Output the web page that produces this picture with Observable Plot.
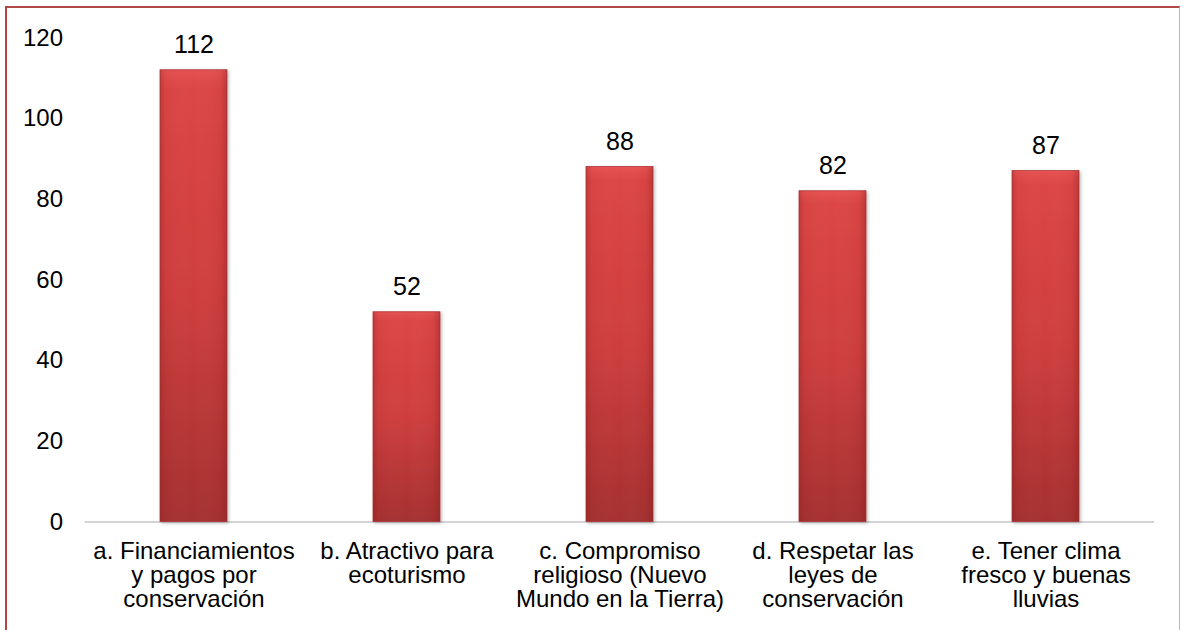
<!DOCTYPE html>
<html>
<head>
<meta charset="utf-8">
<script src="https://cdn.jsdelivr.net/npm/d3@7"></script>
<script src="https://cdn.jsdelivr.net/npm/@observablehq/plot@0.6"></script>
<style>
  html, body { margin: 0; padding: 0; background: #fff; }
  #wrap { position: relative; width: 1184px; height: 630px; overflow: hidden; }
  #border { position: absolute; left: 5px; top: 6px; width: 1172px; height: 640px;
            border-top: 2px solid #b04848; border-left: 2px solid #b04848; border-right: 1px solid #dcaaaa;
            pointer-events: none; }
  svg { font-family: Arial, "Liberation Sans", sans-serif; }
</style>
</head>
<body>
<div id="wrap"><div id="border"></div></div>
<script>
const keys = ["a", "b", "c", "d", "e"];
const labels = [
  "a. Financiamientos\ny pagos por\nconservación",
  "b. Atractivo para\necoturismo",
  "c. Compromiso\nreligioso (Nuevo\nMundo en la Tierra)",
  "d. Respetar las\nleyes de\nconservación",
  "e. Tener clima\nfresco y buenas\nlluvias"
];
const values = [112, 52, 88, 82, 87];
const yTicks = [0, 20, 40, 60, 80, 100, 120];

const data = keys.map((k, i) => ({key: k, label: labels[i], value: values[i]}));
const labelOf = new Map(keys.map((k, i) => [k, labels[i]]));

const chart = Plot.plot({
  width: 1184,
  height: 630,
  marginLeft: 84.5,
  marginRight: 30,
  marginTop: 37.5,
  marginBottom: 108.5,
  style: {fontFamily: "Arial, 'Liberation Sans', sans-serif", color: "#000", background: "transparent"},
  x: {domain: keys, paddingInner: 0.685, paddingOuter: 0.3425, align: 0.5},
  y: {domain: [0, 120]},
  marks: [
    Plot.axisY({ticks: yTicks, tickSize: 0, tickPadding: 22, fontSize: 24, label: null, fill: "#000"}),
    Plot.axisX({tickSize: 0, tickPadding: 20, fontSize: 24, lineHeight: 1.0, label: null,
                tickFormat: d => labelOf.get(d), fill: "#000"}),
    Plot.ruleY([0], {stroke: "#d4d4d4", strokeWidth: 2}),
    Plot.barY(data, {x: "key", y: "value", fill: "url(#barV)", stroke: "#b03636", strokeWidth: 0.8,
                     className: "mainbar"}),
    Plot.barY(data, {x: "key", y: "value", fill: "url(#barH)"}),
    Plot.text(data, {x: "key", y: "value", text: d => String(d.value), dy: -25, fontSize: 25, fill: "#000"})
  ]
});

// gradients for the bars
const ns = "http://www.w3.org/2000/svg";
const defs = document.createElementNS(ns, "defs");
defs.innerHTML = `
  <linearGradient id="barV" x1="0" y1="0" x2="0" y2="1">
    <stop offset="0" stop-color="#e65252"/>
    <stop offset="0.04" stop-color="#dc4545"/>
    <stop offset="0.5" stop-color="#cf3e3e"/>
    <stop offset="1" stop-color="#a53030"/>
  </linearGradient>
  <linearGradient id="barH" x1="0" y1="0" x2="1" y2="0">
    <stop offset="0" stop-color="#7a1a1a" stop-opacity="0.28"/>
    <stop offset="0.08" stop-color="#7a1a1a" stop-opacity="0.05"/>
    <stop offset="0.5" stop-color="#ffffff" stop-opacity="0.0"/>
    <stop offset="0.9" stop-color="#7a1a1a" stop-opacity="0.06"/>
    <stop offset="1" stop-color="#7a1a1a" stop-opacity="0.32"/>
  </linearGradient>
  <filter id="shadow" x="-20%" y="-5%" width="150%" height="115%">
    <feDropShadow dx="1.5" dy="1.5" stdDeviation="1.5" flood-color="#000" flood-opacity="0.25"/>
  </filter>`;
chart.insertBefore(defs, chart.firstChild);
const mb = chart.querySelector(".mainbar");
if (mb) mb.setAttribute("filter", "url(#shadow)");

document.getElementById("wrap").insertBefore(chart, document.getElementById("border"));
</script>
</body>
</html>
